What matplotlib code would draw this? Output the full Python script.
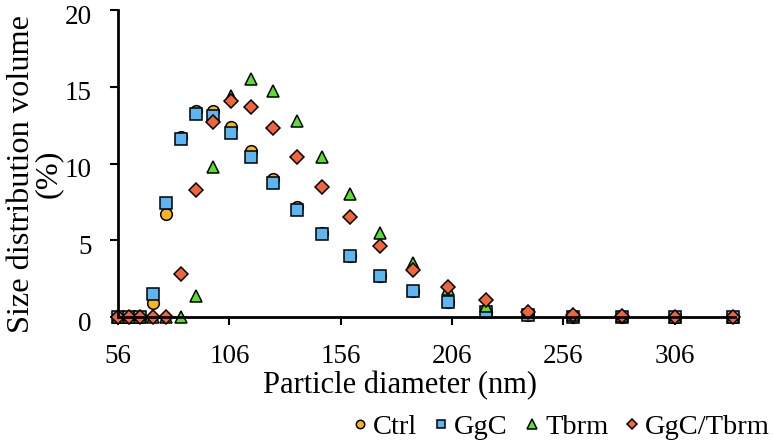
import matplotlib
matplotlib.use("Agg")
import matplotlib.pyplot as plt
from matplotlib.transforms import ScaledTranslation

plt.rcParams['font.family'] = ['Liberation Serif', 'DejaVu Serif']

diameter = [56.1, 60.9, 65.8, 71.5, 77.5, 84.1, 90.9, 98.6, 106.9, 115.8, 125.5, 136.4,
            147.7, 160.3, 173.8, 188.3, 204.1, 221.2, 240.0, 260.3, 282.4, 306.2, 332.1]
ctrl = [0, 0, 0, 0.9, 6.7, 11.7, 13.4, 13.4, 12.4, 10.8, 9.0, 7.15,
        5.5, 4.0, 2.7, 1.7, 1.0, 0.35, 0.1, 0, 0, 0, 0]
ggc = [0, 0, 0, 1.5, 7.4, 11.6, 13.2, 13.1, 12.0, 10.45, 8.7, 7.0,
       5.4, 4.0, 2.7, 1.7, 0.95, 0.3, 0.1, 0, 0, 0, 0]
tbrm = [0, 0, 0, 0, 0, 0, 1.35, 9.75, 14.4, 15.5, 14.7, 12.8,
        10.45, 8.0, 5.5, 3.5, 1.8, 0.7, 0.35, 0.15, 0.05, 0, 0]
ggc_tbrm = [0, 0, 0, 0, 0, 2.8, 8.3, 12.7, 14.1, 13.7, 12.3, 10.45,
            8.5, 6.5, 4.6, 3.05, 1.95, 1.1, 0.35, 0.1, 0.05, 0, 0]

xticks = [56, 106, 156, 206, 256, 306]
yticks = [0, 5, 10, 15, 20]

series = [
    ("Ctrl", ctrl, "o", "#FBB31C", 8.4),
    ("GgC", ggc, "s", "#5DB6F2", 8.6),
    ("Tbrm", tbrm, "^", "#58E02C", 9.2),
    ("GgC/Tbrm", ggc_tbrm, "D", "#F2643A", 6.8),
]

W, H = 773, 443
fig = plt.figure(figsize=(W / 100, H / 100), dpi=100)
left, right, top, bottom = 118, 735, 10, 317
ax = fig.add_axes([left / W, 1 - bottom / H, (right - left) / W, (bottom - top) / H])

for name, vals, mk, col, ms in series:
    ax.plot(diameter, vals, linestyle="none", marker=mk, markersize=ms,
            markerfacecolor=col, markeredgecolor="black", markeredgewidth=1.1,
            label=name, clip_on=False)

ax.set_xlim(56, 333)
ax.set_ylim(0, 20)
ax.set_xticks(xticks)
ax.set_yticks(yticks)
ax.tick_params(axis="both", direction="out", length=6, width=1.5, labelsize=19.5,
               colors="black")
ax.tick_params(axis="x", pad=13.5)
ax.tick_params(axis="y", pad=13)
for lab in ax.get_yticklabels():
    lab.set_transform(lab.get_transform() + ScaledTranslation(0, -3 / 72, fig.dpi_scale_trans))
for s in ["top", "right"]:
    ax.spines[s].set_visible(False)
for s in ["left", "bottom"]:
    ax.spines[s].set_linewidth(2)

ax.set_xlabel("Particle diameter (nm)", fontsize=22, va="top")
ax.xaxis.set_label_coords(0.457, -0.176)
ax.set_ylabel("Size distribution volume\n(%)", fontsize=23.3, linespacing=0.9)
ax.yaxis.set_label_coords(-0.09, 0.466)

fig.legend(loc="lower right", bbox_to_anchor=(1.0, 0.0), ncol=4, frameon=False,
           fontsize=20.5, handlelength=0.6, handletextpad=0.15, columnspacing=0.55,
           markerscale=0.72, borderaxespad=0.0, borderpad=0.1)

fig.savefig("out.png", dpi=100)
